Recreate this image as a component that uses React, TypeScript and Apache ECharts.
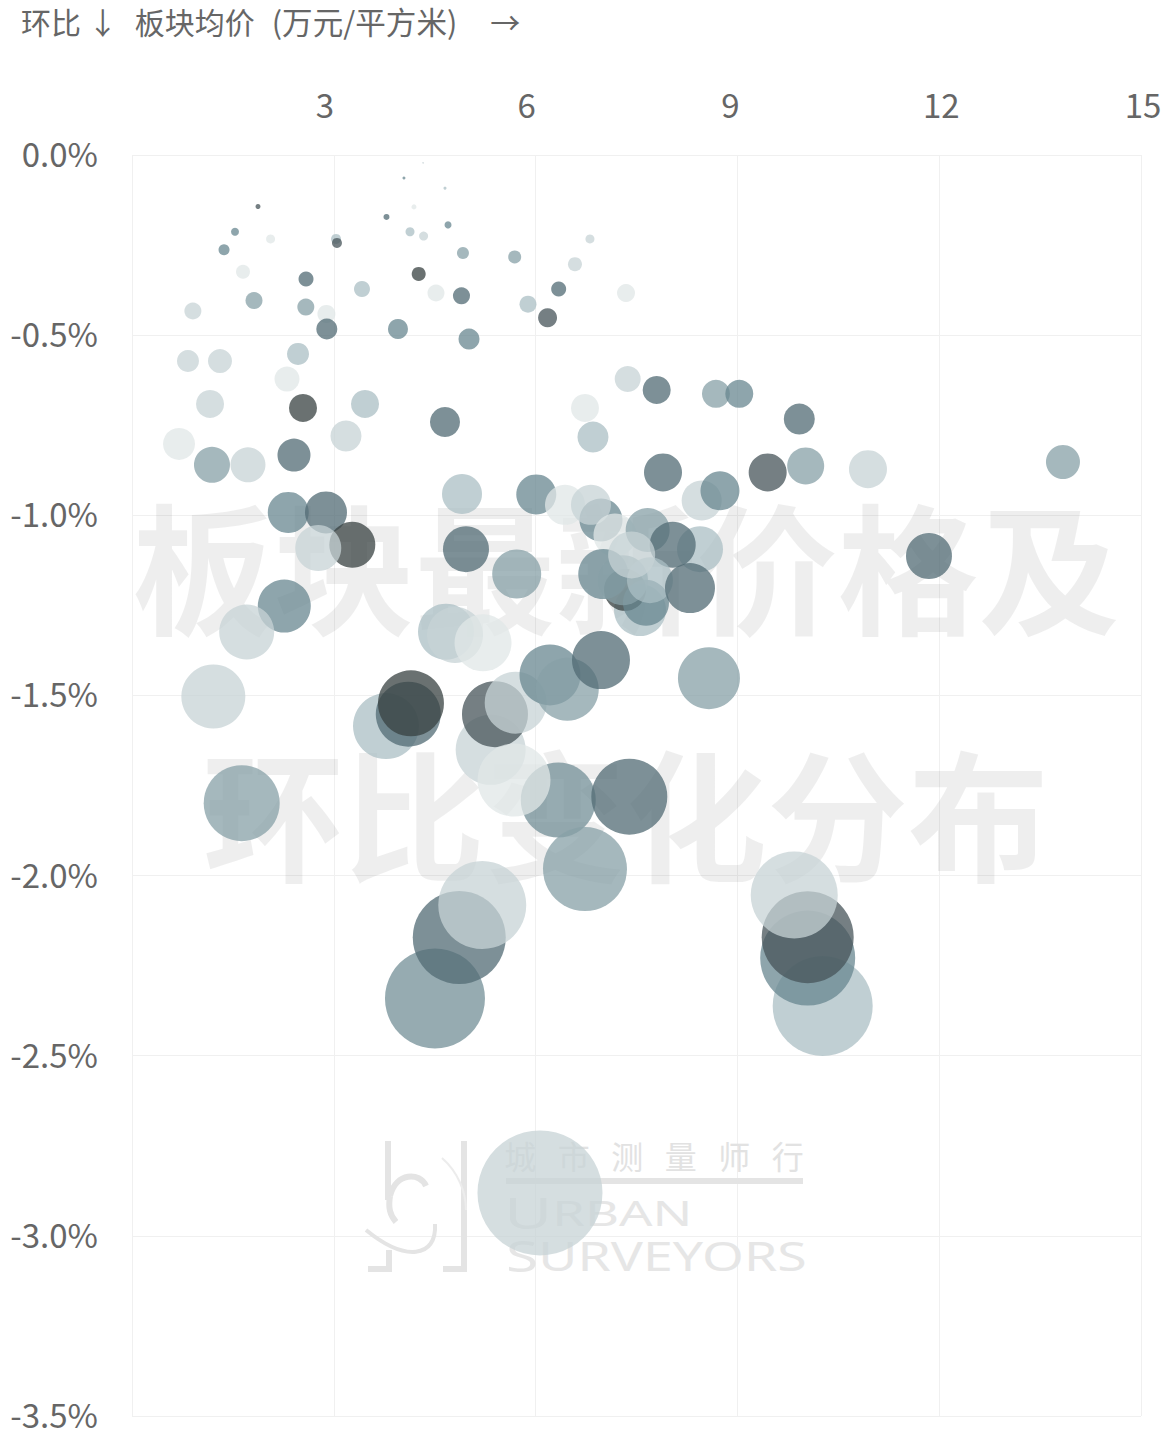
import React, { useEffect, useRef } from "react";
import * as echarts from "echarts";

const FONT = '"Noto Sans CJK SC", "Noto Sans", sans-serif';

const titleSegments = ["环比 ↓", "板块均价", "(万元/平方米)", "→"];
const watermarkLines = ["板块最新价格及", "环比变化分布"];
const logoChinese = "城   市   测   量   师   行";

const xTickOffsets: Record<number, number[]> = {
  3: [0, 18, 0, 0],
  6: [0, 18, 0, 0],
  9: [0, 14, 0, 0],
  12: [0, 0, 0, 4],
  15: [0, 0, 0, 4],
};

const prices = [
  1.873, 4.326, 4.043, 4.653, 4.192, 3.783, 1.531, 4.698, 4.133, 4.335, 2.06, 6.808, 3.033, 3.047, 1.368, 4.92,
  5.689, 6.585, 1.65, 2.587, 4.262, 6.343, 3.419, 4.519, 4.898, 5.887, 1.814, 2.584, 0.905, 2.89, 6.178, 2.896,
  3.954, 5.01, 7.344, 0.832, 1.308, 2.468, 2.304, 7.369, 7.8, 8.681, 9.028, 3.464, 1.16, 2.542, 6.734, 9.92,
  4.653, 3.181, 6.853, 0.699, 2.408, 1.189, 1.724, 10.015, 13.84, 10.941, 7.894, 9.45, 4.906, 6.01, 6.437, 6.972,
  6.823, 8.469, 8.741, 2.323, 2.884, 7.18, 7.666, 8.444, 8.038, 4.965, 3.275, 2.769, 5.719, 7.552, 7.329, 7.641,
  7.006, 7.299, 7.7, 7.428, 8.295, 2.264, 1.705, 4.668, 4.802, 5.218, 1.209, 3.776, 4.107, 4.147, 5.332, 5.396, 5.704,
  6.214, 6.471, 6.972, 8.577, 6.337, 5.679, 7.393, 1.631, 6.734, 4.504, 4.865, 5.207, 10.268, 10.045, 10.045, 9.845,
  6.065, 11.848,
];

const changes = [
  -0.143, -0.022, -0.064, -0.092, -0.144, -0.172, -0.213, -0.194, -0.213, -0.225, -0.233, -0.233, -0.233, -0.244, -0.263, -0.272,
  -0.283, -0.303, -0.324, -0.344, -0.33, -0.372, -0.372, -0.383, -0.391, -0.414, -0.404, -0.422, -0.433, -0.441, -0.452, -0.483,
  -0.483, -0.511, -0.383, -0.572, -0.572, -0.552, -0.622, -0.622, -0.652, -0.663, -0.663, -0.691, -0.691, -0.702, -0.702, -0.733,
  -0.741, -0.78, -0.783, -0.802, -0.833, -0.86, -0.86, -0.863, -0.852, -0.872, -0.881, -0.881, -0.941, -0.942, -0.971, -1.013,
  -0.971, -0.959, -0.932, -0.992, -0.992, -1.055, -1.041, -1.094, -1.082, -1.094, -1.082, -1.091, -1.163, -1.263, -1.207, -1.243,
  -1.163, -1.18, -1.18, -1.11, -1.202, -1.252, -1.324, -1.323, -1.332, -1.354, -1.503, -1.585, -1.552, -1.522, -1.651, -1.552, -1.52,
  -1.443, -1.483, -1.402, -1.452, -1.79, -1.735, -1.781, -1.799, -1.982, -2.341, -2.172, -2.082, -2.362, -2.229, -2.171, -2.054,
  -2.881, -1.113,
];

const diameters = [
  5, 1, 3, 3, 5, 6, 8, 7, 9, 9, 9, 9, 10, 10, 11, 12,
  13, 14, 14, 15, 14, 15, 16, 17, 17, 17, 17, 17, 17, 18, 19, 21,
  20, 21, 18, 22, 24, 22, 25, 26, 28, 28, 28, 28, 28, 28, 28, 31,
  30, 31, 31, 32, 33, 36, 35, 37, 34, 38, 38, 38, 40, 40, 40, 43,
  40, 40, 39, 41, 42, 43, 44, 46, 46, 46, 46, 46, 49, 52, 42, 46,
  50, 50, 46, 47, 50, 53, 55, 56, 56, 57, 64, 66, 65, 66, 70, 66, 62,
  61, 63, 58, 62, 75, 73, 76, 76, 84, 100, 93, 88, 100, 95, 92, 87,
  125, 46,
];

const tones = [
  1, 3, 3, 5, 7, 2, 3, 3, 5, 6, 7, 6, 5, 1, 3, 4,
  4, 6, 7, 2, 0, 2, 5, 7, 2, 5, 4, 4, 6, 7, 1, 2,
  3, 3, 7, 6, 6, 5, 7, 6, 2, 4, 3, 5, 6, 0, 7, 2,
  2, 6, 5, 7, 2, 4, 6, 4, 4, 6, 2, 1, 5, 3, 7, 3,
  6, 6, 3, 3, 2, 7, 4, 5, 2, 2, 0, 6, 4, 5, 0, 3,
  3, 4, 5, 6, 2, 3, 6, 5, 6, 7, 6, 5, 2, 0, 6, 1, 6,
  3, 4, 2, 4, 8, 7, 2, 4, 4, 8, 2, 6, 5, 3, 1, 6,
  6, 2,
];

const tonePalette = [
  "rgba(56,66,66,0.75)",
  "rgba(71,84,90,0.75)",
  "rgba(82,107,116,0.75)",
  "rgba(104,135,144,0.75)",
  "rgba(135,160,167,0.75)",
  "rgba(171,191,196,0.75)",
  "rgba(199,211,214,0.75)",
  "rgba(224,231,231,0.75)",
  "rgba(115,143,151,0.75)",
];

const MARK = "#e4e4e4";

function watermarkGraphics() {
  const bar = { stroke: MARK, lineWidth: 6, fill: "none" };
  const curve = { stroke: MARK, lineWidth: 6, fill: "none" };
  const thin = { stroke: "#ececec", lineWidth: 2, fill: "none" };
  return [
    { type: "text", x: 626, y: 562, z: 1, silent: true, style: { text: watermarkLines[0], font: `bold 141px ${FONT}`, fill: "rgba(0,0,0,0.065)", textAlign: "center", textVerticalAlign: "middle" } },
    { type: "text", x: 626, y: 809, z: 1, silent: true, style: { text: watermarkLines[1], font: `bold 141px ${FONT}`, fill: "rgba(0,0,0,0.065)", textAlign: "center", textVerticalAlign: "middle" } },
    { type: "text", x: 654, y: 1155, z: 1, silent: true, style: { text: logoChinese, font: `32px ${FONT}`, fill: "#e2e2e2", textAlign: "center", textVerticalAlign: "middle" } },
    { type: "rect", z: 1, silent: true, shape: { x: 506, y: 1178, width: 297, height: 6 }, style: { fill: MARK } },
    {
      type: "text", x: 504, y: 1212, scaleX: 1.5, z: 1, silent: true,
      style: {
        text: "{b|U}{s|RBAN}", fill: "#e6e6e6", textAlign: "left", textVerticalAlign: "middle",
        rich: { b: { font: `44px "Noto Sans"`, fill: "#e6e6e6" }, s: { font: `35px "Noto Sans"`, fill: "#e6e6e6" } },
      },
    },
    {
      type: "text", x: 506, y: 1255, scaleX: 1.34, z: 1, silent: true,
      style: {
        text: "{b|S}{s|URVEYORS}", fill: "#e6e6e6", textAlign: "left", textVerticalAlign: "middle",
        rich: { b: { font: `44px "Noto Sans"`, fill: "#e6e6e6" }, s: { font: `40px "Noto Sans"`, fill: "#e6e6e6" } },
      },
    },
    { type: "polyline", z: 1, silent: true, shape: { points: [[388, 1141], [388, 1200]] }, style: bar },
    { type: "polyline", z: 1, silent: true, shape: { points: [[368, 1269], [389, 1269], [389, 1250]] }, style: bar },
    { type: "polyline", z: 1, silent: true, shape: { points: [[464, 1141], [464, 1269], [443, 1269]] }, style: bar },
    { type: "bezierCurve", z: 1, silent: true, shape: { x1: 390, y1: 1196, cpx1: 396, cpy1: 1172, cpx2: 420, cpy2: 1172, x2: 426, y2: 1186 }, style: curve },
    { type: "bezierCurve", z: 1, silent: true, shape: { x1: 390, y1: 1196, cpx1: 388, cpy1: 1208, cpx2: 390, cpy2: 1215, x2: 396, y2: 1222 }, style: curve },
    { type: "bezierCurve", z: 1, silent: true, shape: { x1: 435, y1: 1224, cpx1: 437, cpy1: 1258, cpx2: 405, cpy2: 1262, x2: 366, y2: 1230 }, style: { ...curve, lineWidth: 4 } },
    { type: "bezierCurve", z: 1, silent: true, shape: { x1: 442, y1: 1158, cpx1: 458, cpy1: 1172, cpx2: 466, cpy2: 1192, x2: 466, y2: 1210 }, style: thin },
  ];
}

export default function App() {
  const ref = useRef<HTMLDivElement>(null);

  useEffect(() => {
    if (!ref.current) return;
    const chart = echarts.init(ref.current, undefined, { renderer: "svg" });
    chart.setOption({
      animation: false,
      backgroundColor: "#ffffff",
      textStyle: { fontFamily: FONT },
      title: {
        text: `{a|${titleSegments[0]}}{b|${titleSegments[1]}}{c|${titleSegments[2]}}{d|${titleSegments[3]}}`,
        left: 21,
        top: 6,
        padding: 0,
        textStyle: {
          fontFamily: FONT,
          fontSize: 30,
          fontWeight: "normal",
          color: "#666666",
          rich: {
            a: { fontFamily: FONT, fontSize: 30, color: "#666666" },
            b: { fontFamily: FONT, fontSize: 30, color: "#666666", padding: [0, 0, 0, 17] },
            c: { fontFamily: FONT, fontSize: 30.6, color: "#666666", padding: [0, 0, 0, 17] },
            d: { fontFamily: FONT, fontSize: 30, color: "#666666", padding: [0, 0, 0, 33] },
          },
        },
      },
      grid: { left: 132, right: 31, top: 155, bottom: 14, containLabel: false, outerBoundsMode: "none" },
      xAxis: {
        type: "value",
        position: "top",
        min: 0,
        max: 15,
        interval: 3,
        axisLine: { show: false },
        axisTick: { show: false },
        splitLine: { show: true, lineStyle: { color: "#f0f0f0", width: 1 } },
        axisLabel: {
          showMinLabel: false,
          showMaxLabel: true,
          margin: 35,
          color: "#666666",
          fontSize: 33,
          fontFamily: FONT,
          formatter: (v: number) => `{t${v}|${v}}`,
          rich: Object.fromEntries(
            Object.entries(xTickOffsets).map(([k, padding]) => [
              `t${k}`,
              { padding, color: "#666666", fontSize: 33, fontFamily: FONT },
            ])
          ),
        },
      },
      yAxis: {
        type: "value",
        min: -3.5,
        max: 0,
        interval: 0.5,
        axisLine: { show: false },
        axisTick: { show: false },
        splitLine: { show: true, lineStyle: { color: "#f0f0f0", width: 1 } },
        axisLabel: {
          margin: 34,
          color: "#666666",
          fontSize: 33,
          lineHeight: 4,
          verticalAlign: "bottom",
          fontFamily: FONT,
          formatter: (v: number) => `${v.toFixed(1)}%`,
        },
      },
      graphic: { elements: watermarkGraphics() },
      series: [
        {
          type: "scatter",
          z: 2,
          silent: true,
          clip: false,
          data: prices.map((p, i) => [p, changes[i], diameters[i], tones[i]]),
          symbolSize: (d: number[]) => d[2],
          itemStyle: { opacity: 1, color: (p: any) => tonePalette[p.data[3]] },
        },
      ],
    });
    return () => chart.dispose();
  }, []);

  return <div ref={ref} style={{ position: "absolute", left: 0, top: 0, width: 1172, height: 1430 }} />;
}
